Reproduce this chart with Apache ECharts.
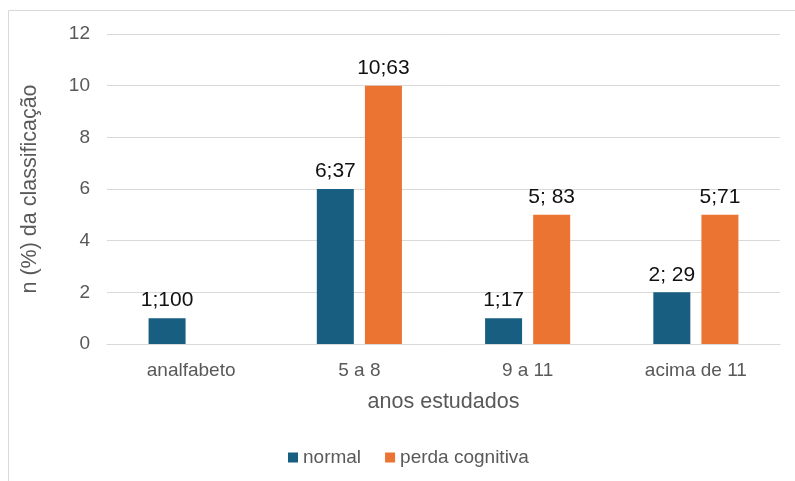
<!DOCTYPE html>
<html>
<head>
<meta charset="utf-8">
<script src="https://cdn.jsdelivr.net/npm/echarts@6/dist/echarts.min.js"></script>
<style>
  html, body { margin: 0; padding: 0; background: #fff; }
  #chart { width: 795px; height: 481px; }
</style>
</head>
<body>
<div id="chart"></div>
<script>
const categories = ['analfabeto', '5 a 8', '9 a 11', 'acima de 11'];
const normalValues = [1, 6, 1, 2];
const perdaValues = [null, 10, 5, 5];
const normalLabels = ['1;100', '6;37', '1;17', '2; 29'];
const perdaLabels = ['', '10;63', '5; 83', '5;71'];

const font = 'Liberation Sans, Arial, sans-serif';

function barLabel(texts) {
  return {
    show: true,
    position: 'top',
    distance: 7,
    color: '#111',
    fontSize: 21,
    fontFamily: font,
    formatter: p => texts[p.dataIndex]
  };
}

const chart = echarts.init(document.getElementById('chart'));
chart.setOption({
  animation: false,
  graphic: [{
    type: 'rect',
    shape: { x: 8.5, y: 10.5, width: 800, height: 500 },
    style: { fill: 'none', stroke: '#d9d9d9', lineWidth: 1 },
    silent: true
  }],
  grid: { left: 107, right: 15, top: 34, bottom: 137 },
  legend: {
    bottom: 9,
    left: 283,
    itemWidth: 10,
    itemHeight: 10,
    itemGap: 24,
    icon: 'rect',
    textStyle: { color: '#595959', fontSize: 19, fontFamily: font }
  },
  xAxis: {
    type: 'category',
    data: categories,
    name: 'anos estudados',
    nameLocation: 'middle',
    nameGap: 47,
    nameTextStyle: { color: '#595959', fontSize: 21.5, fontFamily: font },
    axisLine: { lineStyle: { color: '#d9d9d9', width: 1 } },
    axisTick: { show: false },
    axisLabel: { color: '#595959', fontSize: 19, fontFamily: font, margin: 17 }
  },
  yAxis: {
    type: 'value',
    min: 0,
    max: 12,
    interval: 2,
    name: 'n (%) da classificação',
    nameLocation: 'middle',
    nameGap: 66,
    nameTextStyle: { color: '#595959', fontSize: 21.5, fontFamily: font },
    axisLine: { show: false },
    axisTick: { show: false },
    axisLabel: { color: '#595959', fontSize: 19, fontFamily: font, margin: 17 },
    splitLine: { lineStyle: { color: '#d9d9d9', width: 1 } }
  },
  series: [
    {
      name: 'normal',
      type: 'bar',
      data: normalValues,
      barWidth: 37,
      barGap: '30%',
      itemStyle: { color: '#175e80' },
      label: barLabel(normalLabels)
    },
    {
      name: 'perda cognitiva',
      type: 'bar',
      data: perdaValues,
      barWidth: 37,
      itemStyle: { color: '#eb7433' },
      label: barLabel(perdaLabels)
    }
  ]
});
</script>
</body>
</html>
